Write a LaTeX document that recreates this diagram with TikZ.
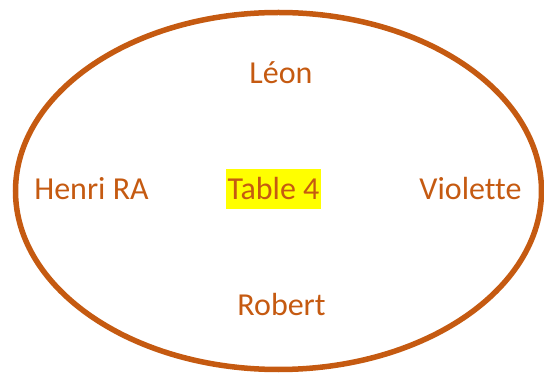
\documentclass[tikz,border=0pt]{standalone}
\usepackage{fontspec}
\setmainfont[Ligatures={NoCommon}]{Carlito}
\definecolor{burnt}{HTML}{C55A11}
\definecolor{hl}{HTML}{FFFF00}
\begin{document}
\begin{tikzpicture}[x=1pt,y=-1pt,
  lbl/.style={text=burnt,font=\fontsize{32}{37}\selectfont,inner sep=0pt,anchor=base}]
\useasboundingbox (0,0) rectangle (544,374);
\draw[burnt,line width=5.5pt] (278.5,191) ellipse [x radius=263, y radius=178.5];
\fill[hl] (226,169.5) rectangle (321,209.3);
\node[lbl] (leon) at (281,83.3) {Léon};
\node[lbl] (henri) at (91.5,199.3) {Henri RA};
\node[lbl] (table) at (273.5,199.3) {Table 4};
\node[lbl] (violette) at (470.5,199.3) {Violette};
\node[lbl] (robert) at (281.5,316) {Robert};
\end{tikzpicture}
\end{document}
